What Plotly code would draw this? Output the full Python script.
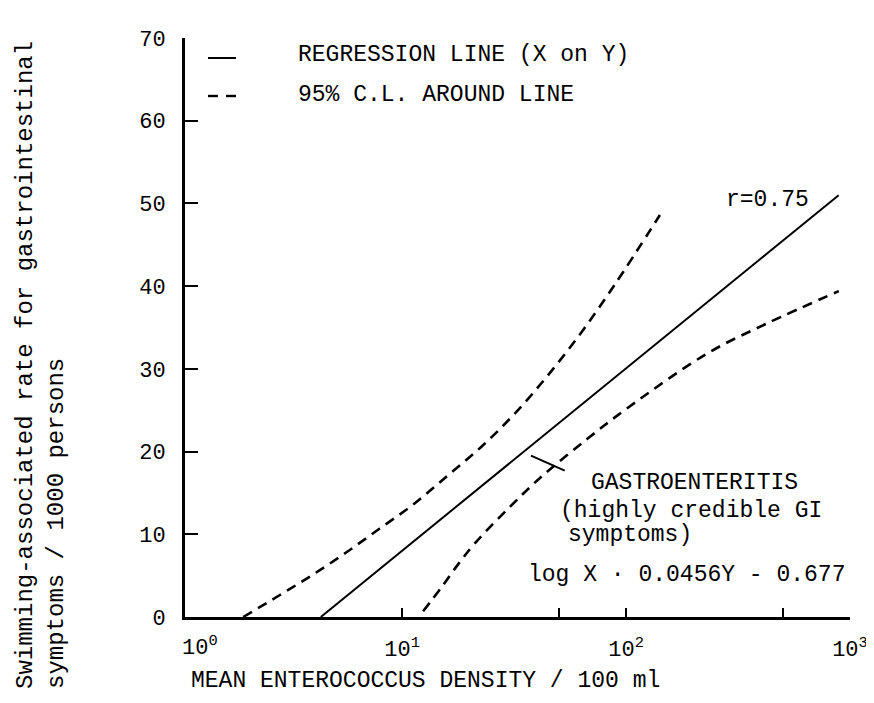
import plotly.graph_objects as go

# Data
reg_x = [4.33, 890]
reg_y = [0.0, 51.0]

upper_x = [1.95, 2.82, 3.98, 5.62, 7.94, 11.2, 15.8, 22.4, 31.6, 44.7, 63.1, 89.1, 141.6]
upper_y = [0.0, 2.6, 5.1, 7.8, 10.7, 13.6, 17.0, 20.5, 24.5, 29.2, 34.4, 40.2, 48.6]

lower_x = [12.4, 14.9, 17.7, 21.1, 30.5, 41.6, 67.6, 101.9, 231.7, 426.6, 891.0]
lower_y = [0.7, 3.5, 6.3, 8.9, 13.4, 16.9, 21.6, 25.3, 31.9, 35.5, 39.4]

x_major = [10, 100, 1000]
x_major_text = ["10<sup>1</sup>", "10<sup>2</sup>", "10<sup>3</sup>"]
x_minor = [50, 500]
y_tickvals = [0, 10, 20, 30, 40, 50, 60, 70]

FONT = "Liberation Mono"

fig = go.Figure()
fig.add_trace(go.Scatter(x=reg_x, y=reg_y, mode="lines", name="REGRESSION LINE (X on Y)",
                         line=dict(color="black", width=2), showlegend=False))
fig.add_trace(go.Scatter(x=upper_x, y=upper_y, mode="lines", name="95% C.L. upper",
                         line=dict(color="black", width=2.6, dash="10px,7px", shape="spline"),
                         showlegend=False))
fig.add_trace(go.Scatter(x=lower_x, y=lower_y, mode="lines", name="95% C.L. lower",
                         line=dict(color="black", width=2.6, dash="10px,7px", shape="spline"),
                         showlegend=False))
# pointer to the regression line
fig.add_trace(go.Scatter(x=[37.6, 53.2], y=[19.5, 17.7], mode="lines",
                         line=dict(color="black", width=2), showlegend=False, hoverinfo="skip"))

L, R, T, B = 177, 842, 30, 609
W, H = R - L, B - T

def px(xp):
    return (xp - L) / W

def py(yp):
    return (B - yp) / H

tf = dict(family=FONT, size=23, color="black")
anns = [
    dict(text="r=0.75", x=px(716), y=py(192), xanchor="left"),
    dict(text="GASTROENTERITIS", x=px(581), y=py(475), xanchor="left"),
    dict(text="(highly credible GI", x=px(550), y=py(503), xanchor="left"),
    dict(text="symptoms)", x=px(558), y=py(527), xanchor="left"),
    dict(text="log X · 0.0456Y - 0.677", x=px(518), y=py(567), xanchor="left"),
    dict(text="REGRESSION LINE (X on Y)", x=px(288), y=py(47), xanchor="left"),
    dict(text="95% C.L. AROUND LINE", x=px(288), y=py(87), xanchor="left"),
    dict(text="MEAN ENTEROCOCCUS DENSITY / 100 ml", x=px(181), y=py(673), xanchor="left"),
    dict(text="10<sup>0</sup>", x=px(192), y=py(638), xanchor="center", font=dict(family=FONT, size=22, color="black")),
    dict(text="Swimming-associated rate for gastrointestinal<br>symptoms / 1000 persons",
         x=px(33), y=py(357), xanchor="center", yanchor="middle", textangle=-90, align="left",
         font=dict(family=FONT, size=24, color="black")),
]
for a in anns:
    a.setdefault("font", tf)
    a.update(xref="paper", yref="paper", showarrow=False)
    if "yanchor" not in a:
        a["yanchor"] = "middle"

shapes = [
    dict(type="line", xref="paper", yref="paper", x0=px(200), x1=px(228), y0=py(50), y1=py(50),
         line=dict(color="black", width=2)),
    dict(type="line", xref="paper", yref="paper", x0=px(200), x1=px(210), y0=py(88), y1=py(88),
         line=dict(color="black", width=2.4)),
    dict(type="line", xref="paper", yref="paper", x0=px(218), x1=px(228), y0=py(88), y1=py(88),
         line=dict(color="black", width=2.4)),
]

fig.update_layout(
    width=874, height=703,
    margin=dict(l=L, r=874 - R, t=T, b=703 - B),
    paper_bgcolor="white", plot_bgcolor="white",
    font=dict(family=FONT, size=22, color="black"),
    annotations=anns, shapes=shapes, showlegend=False,
    xaxis=dict(type="log", range=[0.03, 3.0], tickvals=x_major, ticktext=x_major_text,
               ticks="inside", ticklen=9, tickwidth=2, tickcolor="black",
               minor=dict(tickvals=x_minor, ticks="inside", ticklen=9, tickwidth=2,
                          tickcolor="black", showgrid=False),
               showline=True, linecolor="black", linewidth=3, showgrid=False, zeroline=False,
               ticklabelstandoff=10, tickfont=dict(family=FONT, size=22)),
    yaxis=dict(range=[0, 70], tickvals=y_tickvals, ticks="inside", ticklen=13, tickwidth=2,
               tickcolor="black", showline=True, linecolor="black", linewidth=3,
               showgrid=False, zeroline=False, ticklabelstandoff=12,
               tickfont=dict(family=FONT, size=22)),
)

fig.write_html("out.html")
